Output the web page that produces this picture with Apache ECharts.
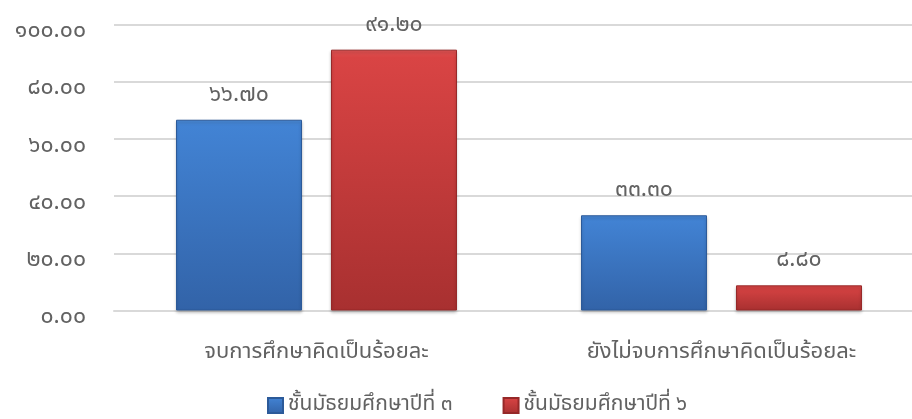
<!DOCTYPE html>
<html>
<head>
<meta charset="utf-8">
<script src="https://cdn.jsdelivr.net/npm/echarts@6/dist/echarts.min.js"></script>
<style>
html,body{margin:0;padding:0;background:#fff;overflow:hidden;width:912px;height:419px;}
#chart{width:924px;height:419px;}
</style>
</head>
<body>
<div id="chart"></div>
<script>
var categories = ['จบการศึกษาคิดเป็นร้อยละ', 'ยังไม่จบการศึกษาคิดเป็นร้อยละ'];
var seriesNames = ['ชั้นมัธยมศึกษาปีที่ ๓', 'ชั้นมัธยมศึกษาปีที่ ๖'];
var grade3Values = [66.70, 33.30];
var grade6Values = [91.20, 8.80];
var yTicks = [0, 20, 40, 60, 80, 100];

var thaiDigits = ['๐','๑','๒','๓','๔','๕','๖','๗','๘','๙'];
function toThai(s) {
  return String(s).replace(/[0-9]/g, function (d) { return thaiDigits[+d]; });
}
var FONT = '"Noto Sans Thai", "Noto Sans", "DejaVu Sans", sans-serif';
var TXT = '#626262';

var chart = echarts.init(document.getElementById('chart'));
chart.setOption({
  backgroundColor: '#ffffff',
  animation: false,
  grid: { left: 114, right: 0, top: 24.5, bottom: 108.5, containLabel: false },
  xAxis: {
    type: 'category',
    data: categories,
    axisLine: { show: true, lineStyle: { color: '#d9d9d9', width: 2 } },
    axisTick: { show: false },
    axisLabel: { color: TXT, fontSize: 22, fontFamily: FONT, margin: 32 }
  },
  yAxis: {
    type: 'value',
    min: yTicks[0],
    max: yTicks[yTicks.length - 1],
    interval: 20,
    axisLine: { show: false },
    axisTick: { show: false },
    splitLine: { lineStyle: { color: '#d9d9d9', width: 2 } },
    axisLabel: {
      color: TXT, fontSize: 23, fontFamily: FONT, margin: 28,
      verticalAlign: 'top', lineHeight: 16,
      formatter: function (v) { return toThai(v.toFixed(2)); }
    }
  },
  legend: {
    top: 395,
    left: 267,
    padding: 0,
    icon: 'rect',
    itemWidth: 15,
    itemHeight: 15,
    itemGap: 50,
    textStyle: { color: TXT, fontSize: 21, fontFamily: FONT },
    data: seriesNames
  },
  series: [
    {
      name: seriesNames[0],
      type: 'bar',
      data: grade3Values,
      barWidth: 126,
      barGap: '23%',
      itemStyle: {
        color: new echarts.graphic.LinearGradient(0, 0, 0, 1, [
          { offset: 0, color: '#4a8ad8' },
          { offset: 0.03, color: '#4283d4' },
          { offset: 1, color: '#3263a8' }
        ]),
        borderColor: '#2c5a99',
        borderWidth: 1,
        shadowColor: 'rgba(0,0,0,0.25)',
        shadowBlur: 3,
        shadowOffsetY: 2
      },
      label: {
        show: true, position: 'top', distance: 12,
        color: TXT, fontSize: 23, fontFamily: FONT,
        formatter: function (p) { return toThai(p.value.toFixed(2)); }
      }
    },
    {
      name: seriesNames[1],
      type: 'bar',
      data: grade6Values,
      barWidth: 126,
      itemStyle: {
        color: new echarts.graphic.LinearGradient(0, 0, 0, 1, [
          { offset: 0, color: '#e05454' },
          { offset: 0.03, color: '#d94444' },
          { offset: 1, color: '#a83030' }
        ]),
        borderColor: '#962828',
        borderWidth: 1,
        shadowColor: 'rgba(0,0,0,0.25)',
        shadowBlur: 3,
        shadowOffsetY: 2
      },
      label: {
        show: true, position: 'top', distance: 12,
        color: TXT, fontSize: 23, fontFamily: FONT,
        formatter: function (p) { return toThai(p.value.toFixed(2)); }
      }
    }
  ]
});
</script>
</body>
</html>
